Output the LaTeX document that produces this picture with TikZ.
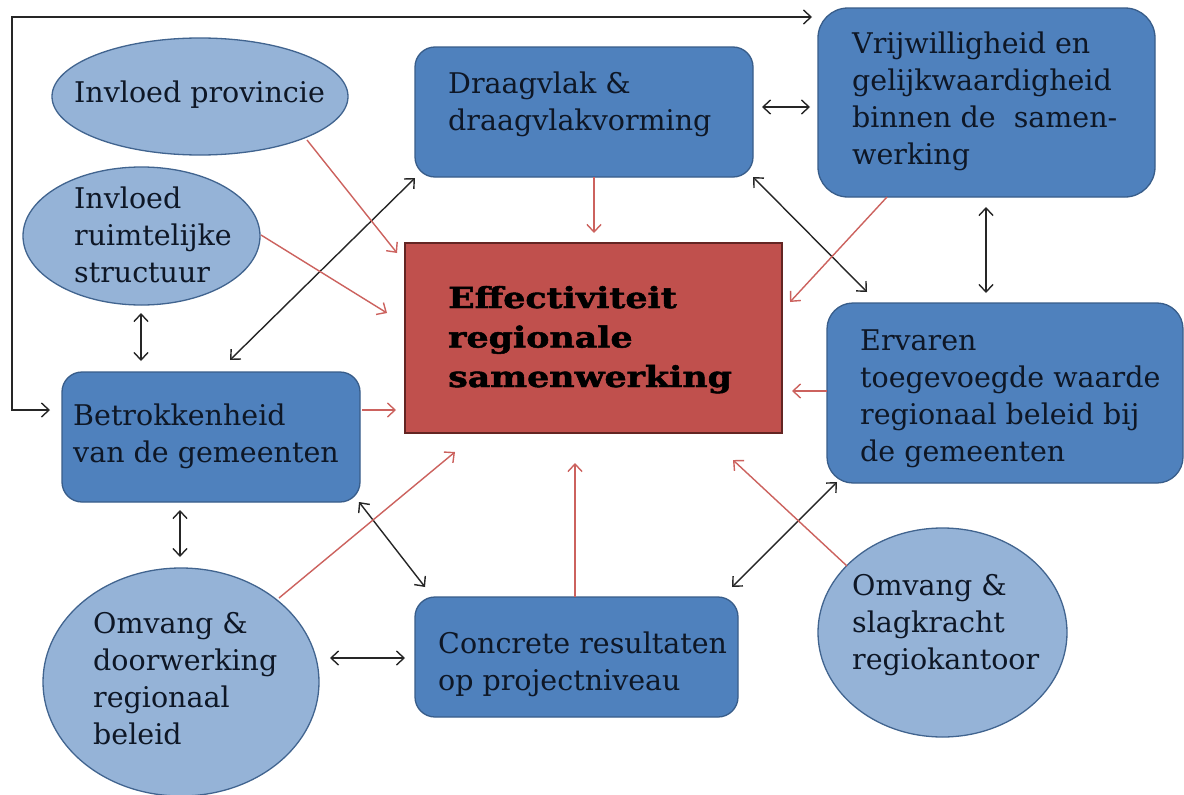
\documentclass[tikz,border=0pt]{standalone}
\usepackage{fontspec}
\setmainfont{DejaVu Serif}
\newfontfamily\heavyfont[FakeBold=1.6]{DejaVu Serif Bold}
\usetikzlibrary{shapes.geometric,arrows.meta}
\definecolor{boxfill}{HTML}{4F81BD}
\definecolor{boxdraw}{HTML}{385D8A}
\definecolor{ellfill}{HTML}{95B3D7}
\definecolor{elldraw}{HTML}{41648F}
\definecolor{efffill}{HTML}{C0504D}
\definecolor{effdraw}{HTML}{632523}
\definecolor{redarr}{HTML}{CC625E}
\definecolor{txt}{HTML}{0E1726}
\newcommand\ml[1]{\vtop{\baselineskip=37pt\lineskiplimit=-50pt\halign{##\hfil\cr#1\crcr}}}
\newcommand\mlb[1]{\vtop{\baselineskip=39.5pt\lineskiplimit=-50pt\halign{##\hfil\cr#1\crcr}}}
\tikzset{
  rbox/.style={draw=boxdraw, line width=1.3pt, fill=boxfill, rectangle, inner sep=0pt},
  ell/.style={draw=elldraw, line width=1.3pt, fill=ellfill, ellipse, inner sep=0pt},
  eff/.style={draw=effdraw, line width=2.6pt, fill=efffill, rectangle, inner sep=0pt},
  lbl/.style={anchor=base west, inner sep=0pt, text=txt, font=\fontsize{28.5}{37}\selectfont},
  efflbl/.style={anchor=base west, inner sep=0pt, text=black, font=\fontsize{29}{40}\heavyfont},
  blk/.style={draw=black!85, line width=1.4pt, {Straight Barb[length=7.5pt,width=14pt]}-{Straight Barb[length=7.5pt,width=14pt]}},
  red/.style={draw=redarr, line width=1.4pt, -{Straight Barb[length=7.5pt,width=14pt]}},
}
\begin{document}
\begin{tikzpicture}[x=1pt,y=-1pt]
\useasboundingbox (0,0) rectangle (1184,795);
\fill[white] (0,0) rectangle (1184,795);
% shapes
\node[ell, minimum width=296pt, minimum height=117pt] (prov) at (200,96.5) {};
\node[ell, minimum width=237pt, minimum height=138pt] (ruim) at (141.5,236) {};
\node[rbox, rounded corners=20pt, minimum width=298pt, minimum height=130pt] (betr) at (211,437) {};
\node[rbox, rounded corners=20pt, minimum width=338pt, minimum height=130pt] (drg) at (584,112) {};
\node[rbox, rounded corners=30pt, minimum width=337pt, minimum height=189pt] (vrij) at (986.5,102.5) {};
\node[eff, minimum width=377pt, minimum height=190pt] (effc) at (593.5,338) {};
\node[rbox, rounded corners=26pt, minimum width=356pt, minimum height=180pt] (erv) at (1005,393) {};
\node[rbox, rounded corners=20pt, minimum width=323pt, minimum height=120pt] (conc) at (576.5,657) {};
\node[ell, minimum width=276pt, minimum height=228pt] (omd) at (181,682) {};
\node[ell, minimum width=249pt, minimum height=209pt] (oms) at (942.5,632.5) {};
% texts
\node[lbl] (tprov) at (74,102) {\ml{Invloed provincie}};
\node[lbl] (truim) at (74,208) {\ml{Invloed\cr ruimtelijke\cr structuur}};
\node[lbl] (tbetr) at (73,425) {\ml{Betrokkenheid\cr van de gemeenten}};
\node[lbl] (tdrg) at (448,93) {\ml{Draagvlak \&\cr draagvlakvorming}};
\node[lbl] (tvrij) at (852,53) {\ml{Vrijwilligheid en\cr gelijkwaardigheid\cr binnen de \ samen-\cr werking}};
\node[efflbl] (teff) at (448,308) {\scalebox{1.2}[1]{\mlb{Effectiviteit\cr regionale\cr samenwerking}}};
\node[lbl] (terv) at (860,350) {\ml{Ervaren\cr toegevoegde waarde\cr regionaal beleid bij\cr de gemeenten}};
\node[lbl] (tconc) at (438,653) {\ml{Concrete resultaten\cr op projectniveau}};
\node[lbl] (tomd) at (93,633) {\ml{Omvang \&\cr doorwerking\cr regionaal\cr beleid}};
\node[lbl] (toms) at (852,595) {\ml{Omvang \&\cr slagkracht\cr regiokantoor}};
% connector end points
\coordinate (fbE) at (812,17);
\coordinate (fbC) at (12,17);
\coordinate (fbS) at (50,410);
\coordinate (dv1) at (762,107); \coordinate (dv2) at (810,107);
\coordinate (rb1) at (141,313); \coordinate (rb2) at (141,361);
\coordinate (bd1) at (230,360); \coordinate (bd2) at (415,178);
\coordinate (bo1) at (180,510); \coordinate (bo2) at (180,557);
\coordinate (bc1) at (359,502); \coordinate (bc2) at (425,587);
\coordinate (oc1) at (330,658); \coordinate (oc2) at (405,658);
\coordinate (ce1) at (732,587); \coordinate (ce2) at (837,482);
\coordinate (de1) at (753,177); \coordinate (de2) at (867,292);
\coordinate (ve1) at (986,207); \coordinate (ve2) at (986,293);
\coordinate (rp1) at (307,140); \coordinate (rp2) at (397,253);
\coordinate (rr1) at (261,235); \coordinate (rr2) at (387,313);
\coordinate (rb3) at (362,410); \coordinate (rb4) at (396,410);
\coordinate (rd1) at (594,177); \coordinate (rd2) at (594,233);
\coordinate (rv1) at (887,197); \coordinate (rv2) at (790,302);
\coordinate (re1) at (827,391); \coordinate (re2) at (792,391);
\coordinate (ro1) at (279,598); \coordinate (ro2) at (455,452);
\coordinate (rc1) at (575,597); \coordinate (rc2) at (575,463);
\coordinate (rs1) at (847,566); \coordinate (rs2) at (733,460);
% black connectors
\draw[blk] (fbE) -- (fbC) |- (fbS);
\draw[blk] (dv1) -- (dv2);
\draw[blk] (rb1) -- (rb2);
\draw[blk] (bd1) -- (bd2);
\draw[blk] (bo1) -- (bo2);
\draw[blk] (bc1) -- (bc2);
\draw[blk] (oc1) -- (oc2);
\draw[blk] (ce1) -- (ce2);
\draw[blk] (de1) -- (de2);
\draw[blk] (ve1) -- (ve2);
% red connectors
\draw[red] (rp1) -- (rp2);
\draw[red] (rr1) -- (rr2);
\draw[red] (rb3) -- (rb4);
\draw[red] (rd1) -- (rd2);
\draw[red] (rv1) -- (rv2);
\draw[red] (re1) -- (re2);
\draw[red] (ro1) -- (ro2);
\draw[red] (rc1) -- (rc2);
\draw[red] (rs1) -- (rs2);
\end{tikzpicture}
\end{document}
